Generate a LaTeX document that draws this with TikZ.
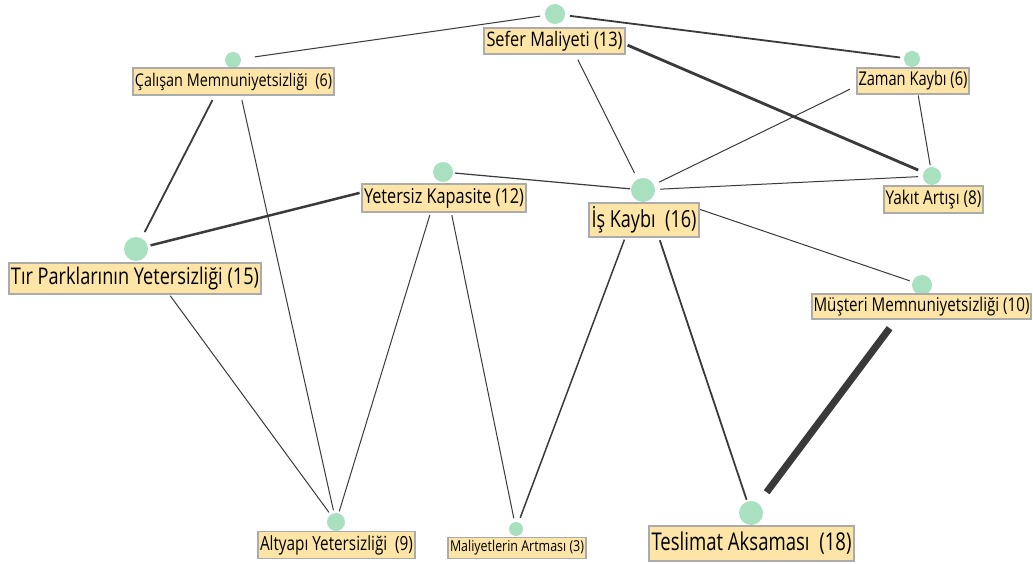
\documentclass[tikz,border=0pt]{standalone}
\usepackage{graphicx}
\usepackage{fontspec}
\setmainfont{Open Sans}
\definecolor{dotgreen}{HTML}{A8E0C0}
\definecolor{boxfill}{HTML}{FDE5A8}
\definecolor{boxline}{HTML}{ABABAB}
\definecolor{edgegray}{HTML}{3A3A3A}
\newcommand{\fitw}[2]{\resizebox{#1pt}{\height}{#2}}
\begin{document}
\begin{tikzpicture}[x=1pt,y=-1pt,
    dot/.style = {circle, fill=dotgreen, inner sep=0pt, minimum size=#1},
    lab/.style = {draw=boxline, line width=1.8pt, fill=boxfill, inner sep=0pt,
        font=\fontsize{#1}{#1}\selectfont},
    edge/.style = {draw=edgegray, line width=#1}]
    \useasboundingbox (0,0) rectangle (1033,564);
    % dots
    \node[dot=20] (s) at (555,14) {};
    \node[dot=16] (c) at (233,60) {};
    \node[dot=16] (z) at (912,59) {};
    \node[dot=18] (y) at (932,176) {};
    \node[dot=20] (k) at (443,172) {};
    \node[dot=24] (i) at (643,190) {};
    \node[dot=24] (t) at (136,249) {};
    \node[dot=20] (m) at (922,285) {};
    \node[dot=18] (a) at (336,522) {};
    \node[dot=14] (l) at (516,529) {};
    \node[dot=24] (e) at (751,513) {};
    % edges
    \draw[edge=1pt, shorten <=22pt, shorten >=15pt] (c.center) -- (s.center);
    \draw[edge=1.8pt, shorten <=15pt, shorten >=12pt] (s.center) -- (z.center);
    \draw[edge=2.8pt, shorten <=79pt, shorten >=15pt] (s.center) -- (y.center);
    \draw[edge=1pt, shorten <=51pt, shorten >=19pt] (s.center) -- (i.center);
    \draw[edge=1pt, shorten <=69pt, shorten >=18pt] (z.center) -- (i.center);
    \draw[edge=1pt, shorten <=37pt, shorten >=11pt] (z.center) -- (y.center);
    \draw[edge=1.2pt, shorten <=12pt, shorten >=13pt] (k.center) -- (i.center);
    \draw[edge=1pt, shorten <=17pt, shorten >=14pt] (i.center) -- (y.center);
    \draw[edge=1pt, shorten <=60pt, shorten >=13pt] (i.center) -- (m.center);
    \draw[edge=1.5pt, shorten <=53pt, shorten >=12pt] (i.center) -- (l.center);
    \draw[edge=1.8pt, shorten <=53pt, shorten >=14pt] (i.center) -- (e.center);
    \draw[edge=7pt, shorten <=54pt, shorten >=26pt] (m.center) -- (e.center);
    \draw[edge=2.5pt, shorten <=86pt, shorten >=15pt] (k.center) -- (t.center);
    \draw[edge=1pt, shorten <=45pt, shorten >=11pt] (k.center) -- (a.center);
    \draw[edge=1pt, shorten <=44pt, shorten >=11pt] (k.center) -- (l.center);
    \draw[edge=1.8pt, shorten <=45pt, shorten >=19pt] (c.center) -- (t.center);
    \draw[edge=1pt, shorten <=41pt, shorten >=12pt] (c.center) -- (a.center);
    \draw[edge=1pt, shorten <=58pt, shorten >=12pt] (t.center) -- (a.center);
    % labels
    \node[lab=20, minimum width=141, minimum height=26] (sl) at (554.5,41) {\fitw{136}{Sefer Maliyeti (13)}};
    \node[lab=17.5, minimum width=201, minimum height=27] (cl) at (233.5,81.5) {\fitw{197}{Çalışan Memnuniyetsizliği\ \ (6)}};
    \node[lab=19, minimum width=112, minimum height=26] (zl) at (913,81) {\fitw{109}{Zaman Kaybı (6)}};
    \node[lab=19, minimum width=99, minimum height=27] (yl) at (933.5,199.5) {\fitw{96}{Yakıt Artışı (8)}};
    \node[lab=20.5, minimum width=164, minimum height=28] (kl) at (444,198) {\fitw{160}{Yetersiz Kapasite (12)}};
    \node[lab=23.5, minimum width=110, minimum height=34] (il) at (644,220) {\fitw{105}{İş Kaybı\ \ (16)}};
    \node[lab=23, minimum width=252, minimum height=31] (tl) at (135,278.5) {\fitw{248}{Tır Parklarının Yetersizliği (15)}};
    \node[lab=19, minimum width=219, minimum height=25] (ml) at (921.5,306.5) {\fitw{216}{Müşteri Memnuniyetsizliği (10)}};
    \node[lab=19.5, minimum width=157, minimum height=27] (al) at (336.5,545) {\fitw{153}{Altyapı Yetersizliği\ \ (9)}};
    \node[lab=15, minimum width=138, minimum height=21] (ll) at (517,548) {\fitw{134}{Maliyetlerin Artması (3)}};
    \node[lab=24.5, minimum width=205, minimum height=35] (el) at (751.5,543.5) {\fitw{200}{Teslimat Aksaması\ \ (18)}};
\end{tikzpicture}
\end{document}
